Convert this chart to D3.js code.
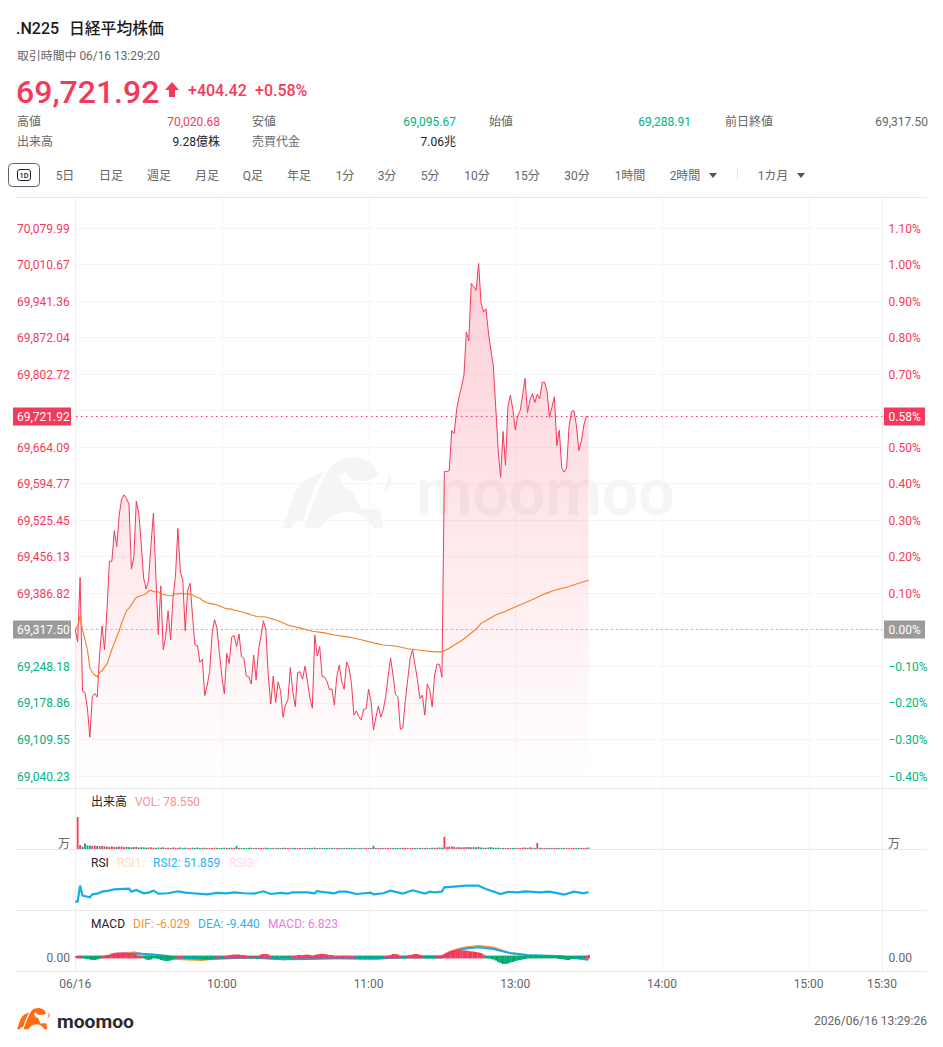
<!DOCTYPE html>
<html>
<head>
<meta charset="utf-8">
<script src="https://cdn.jsdelivr.net/npm/d3@7"></script>
<style>
html, body { margin: 0; padding: 0; background: #fff; }
svg { display: block; }
text { font-family: Roboto, "Noto Sans CJK JP", sans-serif; }
</style>
</head>
<body>
<svg id="chart" width="943" height="1047"></svg>
<script>
var WIDTH = 943, HEIGHT = 1047;
var RED = "#f5395a", GREEN = "#00a96f", GREEN_TEXT = "#00b27d", GREY = "#9b9b9b";
var ORANGE = "#f47e22", BLUE = "#12aee8";

var PREV_CLOSE = 69317.50;
var OPEN_PRICE = 69288.91;
var LAST_PRICE = 69721.92;

// trading minute since 09:00 is the index of these arrays (lunch is collapsed)
var closes = [
69318,69295,69417,69201,69199,69169,69114,69192,69197,69190,
69273,69325,69280,69355,69448,69448,69506,69476,69536,69566,
69574,69567,69556,69433,69457,69562,69539,69482,69416,69395,
69412,69479,69539,69419,69309,69401,69280,69305,69354,69299,
69378,69419,69510,69428,69412,69316,69393,69406,69343,69289,
69288,69256,69262,69193,69213,69239,69311,69337,69321,69273,
69229,69196,69273,69254,69304,69307,69286,69310,69267,69264,
69230,69229,69215,69270,69223,69280,69307,69335,69318,69229,
69177,69230,69180,69219,69202,69152,69175,69185,69246,69200,
69172,69237,69238,69224,69249,69220,69188,69169,69308,69268,
69286,69229,69228,69220,69204,69206,69175,69229,69251,69220,
69205,69257,69246,69216,69156,69164,69153,69147,69167,69168,
69205,69182,69128,69152,69173,69152,69166,69191,69230,69264,
69232,69195,69191,69129,69132,69182,69223,69264,69280,69251,
69223,69187,69194,69156,69215,69204,69172,69232,69253,69252,
69228,69618,69618,69620,69696,69690,69735,69760,69779,69801,
69883,69866,69975,69969,69962,70013,69938,69921,69927,69883,
69849,69820,69741,69659,69607,69694,69630,69741,69763,69736,
69697,69724,69734,69763,69795,69730,69754,69766,69749,69765,
69756,69787,69788,69770,69721,69740,69760,69667,69697,69625,
69617,69625,69703,69732,69734,69706,69658,69675,69705,69723,
69721.92
];

var avgMinutes = [
0,1,2,3,4,5,6,7,8,9,10,11,12,13,14,15,16,17,18,19,20,21,22,23,24,25,26,27,28,29,
30,31,32,33,34,35,36,37,38,39,40,41,42,43,44,45,46,47,48,49,50,51,52,53,54,55,56,57,58,59,
60,61,62,63,64,65,66,67,68,69,70,71,72,73,74,78,83,87,92,97,102,106,112,117,122,126,131,136,138,143,147,150,
153,155,158,161,164,166,169,172,176,180,184,188,192,196,202,206,210
];
var avgPrices = [
69318,69325,69344,69317,69299,69280,69245,69237,69232,69229,69237,69240,69247,69253,69267,69281,69292,69305,69316,69331,
69342,69354,69359,69365,69373,69379,69381,69383,69384,69387,
69391,69393,69390,69390,69390,69387,69385,69384,69383,69382,69384,69386,69386,69387,69386,69386,69386,69385,69384,69381,
69379,69378,69374,69371,69369,69368,69367,69366,69365,69363,
69361,69359,69358,69357,69357,69355,69354,69353,69352,69351,69349,69348,69346,69345,69343,
69342,69335,69327,69321,69315,69312,69308,69304,69299,69293,69289,69287,69282,69281,69278,69276,69276,
69283,69289,69297,69308,69319,69330,69338,69346,69353,69361,69369,69377,69386,69393,69400,69406,69412
];

// volume in 万, minutes 1..210
var volumes = [
1700,210,120,290,190,180,170,180,160,150,160,140,130,120,140,110,110,130,130,100,
110,100,90,100,110,80,90,90,70,80,90,70,60,80,70,90,60,70,50,80,
70,60,80,50,70,60,50,70,60,80,50,60,70,50,60,50,70,60,50,60,
70,50,60,70,60,165,60,50,60,50,60,70,50,60,50,60,50,70,60,50,
60,50,60,50,60,70,50,60,50,60,50,60,50,50,60,50,60,70,50,60,
50,60,50,60,50,60,50,60,50,50,60,50,60,50,60,50,60,50,60,50,
60,170,60,50,60,50,60,50,60,50,60,50,60,50,60,50,50,60,50,60,
50,60,50,60,50,70,60,70,80,70,650,110,130,140,120,90,100,90,90,110,
100,90,100,90,120,80,70,60,80,100,70,60,70,50,60,50,60,50,60,50,
60,50,70,80,60,90,70,60,320,70,60,50,60,50,60,50,60,50,60,50,
60,50,60,50,60,50,60,50,60,78.55
];

var rsiMinutes = [
0,1,2,3,6,7,9,11,13,16,22,23,25,28,30,32,34,38,42,45,48,54,58,62,65,69,73,77,80,84,87,89,95,98,99,100,
106,108,111,115,121,122,126,129,134,138,143,145,147,150,151,160,165,168,174,177,181,184,190,194,196,200,204,208,210
];
var rsiValues = [
34.3,34.3,63.4,45.2,42.2,47.6,48.8,52.5,53.7,56.7,57.9,52.5,55.5,49.5,50.7,54.3,48.8,49.5,53.1,50.7,49.5,47.6,50.1,49.5,51.3,49.5,48.8,53.1,48.2,50.1,48.8,51.3,51.3,49.5,53.7,52.5,
49.5,52.5,52.5,48.2,50.7,47.6,49.5,54.3,48.8,54.9,48.8,52.5,51.3,52.5,60.4,63.4,63.4,57.3,48.2,51.9,51.3,53.1,51.3,52.5,50.7,47,52.5,49.5,51.859
];

// MACD histogram, minutes 1..210
var macdHist = [
1.7,3.4,-3.4,-5.1,-6.8,-8.5,-10.2,-10.2,-8.5,-5.1,
1.7,5.1,6.8,8.5,11.9,13.6,15.3,15.3,16,16,
16,15.3,13.6,11.9,8.5,5.1,1.7,-3.4,-8.5,-10.2,
-8.5,-5.1,-3.4,-6.8,-10.2,-11.9,-13.6,-13.6,-11.9,-8.5,
-3.4,3.4,5.1,3.4,-1.7,-3.4,-3.4,-3.4,-3.4,-4.1,
-5.1,-6.8,-8.5,-8.5,-8.5,-6.8,-3.4,3.4,5.1,-2.7,
2.7,5.1,6.8,7.5,8.5,8.5,8.5,6.8,6.8,5.1,
3.4,-2.7,2.7,-2.7,5.1,8.5,10.2,10.2,8.5,3.4,
-3.4,-3.4,-3.4,-3.4,-3.4,-3.4,-3.4,-4.1,2.7,5.1,
6.8,6.8,6.8,7.5,8.5,6.8,5.1,6.8,8.5,10.2,
10.9,10.2,8.5,6.8,6.8,5.1,3.4,4.1,5.1,5.1,
5.1,5.1,4.1,2.7,-2.7,-3.4,-3.4,-3.4,-3.4,-3.4,
-3.4,-3.4,-3.4,-3.4,-3.4,-3.4,2.7,5.1,6.8,10.2,
10.2,8.5,5.1,-2.7,-3.4,3.4,6.8,8.5,10.2,10.2,
6.8,3.4,-2.7,-3.4,-3.4,-3.4,-3.4,3.4,5.1,5.1,
10.2,15.3,18.7,22.1,23.1,23.1,23.1,23.1,22.1,22.1,
20.4,18.7,18.7,17,15.3,13.6,8.5,-3.4,-5.1,-6.8,
-8.5,-11.9,-17,-20.4,-23.8,-23.8,-22.1,-18.7,-17,-13.6,
-11.9,-10.2,-8.5,-6.8,-5.1,-5.1,-4.1,-3.4,-3.4,-3.4,
-3.4,-3.4,-3.4,-3.4,-3.4,-3.4,-5.1,-6.8,-6.8,-8.5,
-10.2,-10.2,-6.8,-5.1,-3.4,-3.4,-2.7,-2,5.1,6.823
];

var macdMinutes = [0,10,22,24,31,37,41,52,58,71,85,96,108,122,136,150,156,160,165,171,178,185,197,210];
var difValues = [0,-2,12,16,4.5,-2,-7,-10,-4.5,0,-8,-2,-4.5,-8,2,3.4,26,33,37,32,12.5,4.5,3.4,-6.029];
var deaValues = [0,-2,9,12,9,4.5,-2,-7,-6,-2,-8,-7,-4.5,-4.5,-2,-2,22,29,33,27,13.6,7,3.4,-9.44];

var priceTicks = [70079.99,70010.67,69941.36,69872.04,69802.72,69733.41,69664.09,69594.77,69525.45,69456.13,69386.82,69317.50,69248.18,69178.86,69109.55,69040.23];
var hiddenTicks = [69733.41, 69317.50]; // covered by the flags
var xTickMinutes = [0,60,120,180,240,300,330];
var xTickLabels = ["06/16","10:00","11:00","13:00","14:00","15:00","15:30"];

var tabLabels = ["5日","日足","週足","月足","Q足","年足","1分","3分","5分","10分","15分","30分","1時間","2時間","1カ月"];
var tabCenters = [65,111,159,207,253,299,345,387,430,477,527,577,630,685,773];

var x = d3.scaleLinear().domain([0,330]).range([75.2,882]);
var y = d3.scaleLinear().domain([69040.23,70079.99]).range([776.1,228.1]);
var volY = d3.scaleLinear().domain([0,1700]).range([849,817]);
var rsiY = d3.scaleLinear().domain([20,80]).range([909.5,876.5]);
var macdY = d3.scaleLinear().domain([-23.8,23.8]).range([964,950]);

var svg = d3.select("#chart");
svg.append("rect").attr("width",WIDTH).attr("height",HEIGHT).attr("fill","#fff");

function main() {
    drawHeader();
    drawGrid();
    drawWatermark();
    drawPrice();
    drawVolume();
    drawRsi();
    drawMacd();
    drawAxes();
    drawFooter();
}

function label(parent, txt, px, py, size, color, anchor, weight) {
    return parent.append("text")
        .attr("x",px).attr("y",py)
        .attr("font-size",size)
        .attr("fill",color)
        .attr("text-anchor",anchor || "start")
        .attr("font-weight",weight || 400)
        .text(txt);
}

function drawHeader() {
    var g = svg.append("g");
    label(g,".N225",16,34,16,"#1a1a1a","start",500);
    label(g,"日経平均株価",69,34,15.8,"#1a1a1a","start",500);
    label(g,"取引時間中 06/16 13:29:20",17,60,11.9,"#666");

    label(g,"69,721.92",16,103,32,RED,"start",500);
    g.append("path").attr("d","M172 82 L179 90 L175 90 L175 97 L169 97 L169 90 L165 90 Z").attr("fill",RED);
    label(g,"+404.42",188,96,16,RED,"start",500);
    label(g,"+0.58%",255,96,16,RED,"start",500);

    var statNames = ["高値","安値","始値","前日終値"];
    var statNameX = [17,252,489,725];
    var statValues = ["70,020.68","69,095.67","69,288.91","69,317.50"];
    var statValueX = [220,456,691,928];
    var statColors = [RED,GREEN_TEXT,GREEN_TEXT,"#666"];
    statNames.forEach(function(n,i) {
        label(g,n,statNameX[i],126,12,"#666");
        label(g,statValues[i],statValueX[i],126,12,statColors[i],"end");
    });
    label(g,"出来高",17,146,12,"#666");
    label(g,"9.28億株",220,146,12,"#222","end");
    label(g,"売買代金",252,146,12,"#666");
    label(g,"7.06兆",456,146,12,"#222","end");

    // range tabs
    g.append("rect").attr("x",8.5).attr("y",163.5).attr("width",31).attr("height",23).attr("rx",4)
        .attr("fill","none").attr("stroke","#5a6070");
    g.append("rect").attr("x",17.5).attr("y",169.5).attr("width",13).attr("height",11).attr("rx",2.5)
        .attr("fill","none").attr("stroke","#222");
    label(g,"1D",24,178,7.5,"#222","middle",500);
    tabLabels.forEach(function(t,i) {
        label(g,t,tabCenters[i],180,12,"#666","middle");
    });
    g.append("path").attr("d","M709 173 L717 173 L713 178 Z").attr("fill","#555");
    g.append("path").attr("d","M797 173 L805 173 L801 178 Z").attr("fill","#555");
    g.append("line").attr("x1",737.5).attr("x2",737.5).attr("y1",169).attr("y2",180).attr("stroke","#e6e6e6");
}

function drawGrid() {
    var g = svg.append("g");
    var separators = [197.5,788.5,849.5,910.5,971.5];
    g.selectAll(".sep").data(separators).enter().append("line")
        .attr("x1",16).attr("x2",927)
        .attr("y1",function(d) { return d; }).attr("y2",function(d) { return d; })
        .attr("stroke","#e8e8e8");
    g.selectAll(".hgrid").data(priceTicks).enter().append("line")
        .attr("x1",76).attr("x2",882)
        .attr("y1",function(d) { return Math.floor(y(d)) + 0.5; })
        .attr("y2",function(d) { return Math.floor(y(d)) + 0.5; })
        .attr("stroke","#f5f5f5");
    g.selectAll(".vgrid").data(xTickMinutes).enter().append("line")
        .attr("x1",function(d) { return Math.round(x(d)) + 0.5; })
        .attr("x2",function(d) { return Math.round(x(d)) + 0.5; })
        .attr("y1",197).attr("y2",971)
        .attr("stroke",function(d,i) { return (i == 0 || i == 6) ? "#ededed" : "#f5f5f5"; });
}

var BULL_WING = "M37 265 L70 170 Q90 115 160 97 Q120 160 100 240 Q80 240 60 265 Z";
var BULL_BODY = "M102 265 Q150 130 178 85 Q205 50 260 52 Q315 62 325 105 Q320 122 270 122 Q232 120 228 92 Q215 105 205 105 Q208 138 248 155 L272 208 L330 205 L340 265 L310 265 Q290 220 235 215 Q185 215 150 265 Z";
var BULL_HORN = "M350 95 Q385 130 336 157 Q362 125 350 95 Z";

function drawBull(transform, color) {
    var g = svg.append("g").attr("transform",transform).attr("fill",color);
    [BULL_WING,BULL_BODY,BULL_HORN].forEach(function(d) {
        g.append("path").attr("d",d);
    });
}

function drawWatermark() {
    drawBull("translate(270,440) scale(0.3333)","#f5f5f5");
    svg.append("text")
        .attr("x",416).attr("y",515)
        .attr("font-family","'Noto Sans',sans-serif")
        .attr("font-size",66).attr("font-weight",600)
        .attr("fill","#f5f5f5")
        .attr("textLength",259).attr("lengthAdjust","spacingAndGlyphs")
        .text("moomoo");
}

function drawPrice() {
    var defs = svg.append("defs");
    var grad = defs.append("linearGradient").attr("id","areaFill")
        .attr("gradientUnits","userSpaceOnUse")
        .attr("x1",0).attr("x2",0).attr("y1",263).attr("y2",782);
    grad.append("stop").attr("offset",0).attr("stop-color",RED).attr("stop-opacity",0.24);
    grad.append("stop").attr("offset",1).attr("stop-color",RED).attr("stop-opacity",0);

    var area = d3.area()
        .x(function(d,i) { return x(i); })
        .y0(788)
        .y1(function(d) { return y(d); });
    svg.append("path").attr("d",area(closes)).attr("fill","url(#areaFill)");

    // dotted reference lines
    svg.append("line").attr("x1",76).attr("x2",882)
        .attr("y1",Math.floor(y(PREV_CLOSE)) + 0.5).attr("y2",Math.floor(y(PREV_CLOSE)) + 0.5)
        .attr("stroke","#a8a8a8").attr("stroke-dasharray","1.5 3.5");
    svg.append("line").attr("x1",76).attr("x2",882)
        .attr("y1",Math.floor(y(LAST_PRICE)) + 0.5).attr("y2",Math.floor(y(LAST_PRICE)) + 0.5)
        .attr("stroke",RED).attr("stroke-dasharray","1.5 3.5");

    var line = d3.line()
        .x(function(d,i) { return x(i); })
        .y(function(d) { return y(d); });
    svg.append("path").attr("d",line(closes))
        .attr("fill","none").attr("stroke",RED).attr("stroke-width",1);

    var avgLine = d3.line()
        .x(function(d) { return x(d); })
        .y(function(d,i) { return y(avgPrices[i]); });
    svg.append("path").attr("d",avgLine(avgMinutes))
        .attr("fill","none").attr("stroke",ORANGE).attr("stroke-width",1.1);
}

function barColor(i) {
    // i is the minute, red when the close did not fall
    var before = i == 1 ? OPEN_PRICE : closes[i - 1];
    return closes[i] >= before ? RED : GREEN;
}

function drawVolume() {
    var g = svg.append("g");
    label(g,"出来高",91,806,12,"#222");
    label(g,"VOL: 78.550",135,806,12,"#fb8f8f");
    g.selectAll("rect").data(volumes).enter().append("rect")
        .attr("x",function(d,i) { return x(i + 1) - 0.9; })
        .attr("width",1.8)
        .attr("y",function(d) { return volY(d); })
        .attr("height",function(d) { return volY(0) - volY(d); })
        .attr("fill",function(d,i) { return barColor(i + 1); });
}

function drawRsi() {
    var g = svg.append("g");
    label(g,"RSI",91,867,12,"#222");
    label(g,"RSI1:",117,867,12,"#ffdcbf");
    label(g,"RSI2: 51.859",153,867,12,"#2cb3ef");
    label(g,"RSI3:",229,867,12,"#fbd6f4");
    var rsiLine = d3.line()
        .x(function(d) { return x(d); })
        .y(function(d,i) { return rsiY(rsiValues[i]); });
    g.append("path").attr("d",rsiLine(rsiMinutes))
        .attr("fill","none").attr("stroke",BLUE).attr("stroke-width",2.2);
}

function drawMacd() {
    var g = svg.append("g");
    label(g,"MACD",91,928,12,"#222");
    label(g,"DIF: -6.029",133,928,12,"#f7932a");
    label(g,"DEA: -9.440",198,928,12,"#2cb3ef");
    label(g,"MACD: 6.823",268,928,12,"#ee78e2");

    var difLine = d3.line().x(function(d) { return x(d); }).y(function(d,i) { return macdY(difValues[i]); });
    var deaLine = d3.line().x(function(d) { return x(d); }).y(function(d,i) { return macdY(deaValues[i]); });
    g.append("path").attr("d",difLine(macdMinutes)).attr("fill","none").attr("stroke","#f7932a").attr("stroke-width",2);
    g.append("path").attr("d",deaLine(macdMinutes)).attr("fill","none").attr("stroke",BLUE).attr("stroke-width",2);

    // histogram keeps a thin band around zero even for small values
    var band = 1.4;
    g.selectAll("rect").data(macdHist).enter().append("rect")
        .attr("x",function(d,i) { return x(i + 1) - 1.3; })
        .attr("width",2.6)
        .attr("y",function(d) { return Math.min(macdY(d), macdY(0) - band); })
        .attr("height",function(d) { return Math.max(macdY(d), macdY(0) + band) - Math.min(macdY(d), macdY(0) - band); })
        .attr("fill",function(d) { return d > 0 ? RED : GREEN; });
}

function drawAxes() {
    var g = svg.append("g");
    priceTicks.forEach(function(t) {
        if (hiddenTicks.indexOf(t) >= 0) return;
        var color = t > PREV_CLOSE ? RED : GREEN_TEXT;
        var pct = (t / PREV_CLOSE - 1) * 100;
        label(g,d3.format(",.2f")(t),17,y(t) + 4.4,12,color);
        label(g,d3.format(".2f")(pct) + "%",888.5,y(t) + 4.4,12,color);
    });

    // flags for the last price and the previous close
    flag(g,LAST_PRICE,RED,d3.format(",.2f")(LAST_PRICE),"0.58%");
    flag(g,PREV_CLOSE,GREY,d3.format(",.2f")(PREV_CLOSE),"0.00%");

    label(g,"万",70,848,12,"#666","end");
    label(g,"万",888,848,12,"#666");
    label(g,"0.00",70,961.5,12,"#666","end");
    label(g,"0.00",888.5,961.5,12,"#666");

    xTickMinutes.forEach(function(m,i) {
        label(g,xTickLabels[i],x(m),988,12,"#666","middle");
    });
}

function flag(g, price, color, leftText, rightText) {
    var py = Math.floor(y(price)) + 0.5;
    g.append("rect").attr("x",13).attr("y",py - 9).attr("width",58).attr("height",18).attr("fill",color);
    g.append("rect").attr("x",884).attr("y",py - 9).attr("width",41).attr("height",18).attr("fill",color);
    label(g,leftText,17,py + 4.5,12,"#fff");
    label(g,rightText,888.5,py + 4.5,12,"#fff");
}

function drawFooter() {
    drawBull("translate(13.3,1002.8) scale(0.1)","#ff6a13");
    svg.append("text")
        .attr("x",57).attr("y",1028)
        .attr("font-family","'Noto Sans',sans-serif")
        .attr("font-size",19).attr("font-weight",700)
        .attr("fill","#2a2a2a")
        .attr("textLength",77).attr("lengthAdjust","spacingAndGlyphs")
        .text("moomoo");
    label(svg,"2026/06/16 13:29:26",927,1025,12,"#666","end");
}

main();
</script>
</body>
</html>
